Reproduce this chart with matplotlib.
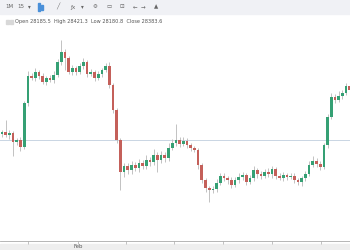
import matplotlib
matplotlib.use("Agg")
import matplotlib.pyplot as plt
from matplotlib.patches import Rectangle

# ---- data ------------------------------------------------------------------
closes = [28140, 28125, 28135, 28090, 28100, 28065, 28285, 28420, 28410, 28440,
          28420, 28390, 28410, 28400, 28425, 28490, 28540, 28510, 28440, 28460,
          28440, 28470, 28490, 28430, 28440, 28410, 28430, 28450, 28470, 28375,
          28250, 28100, 27940, 27970, 27950, 27975, 27960, 27985, 27970, 28000,
          27990, 28025, 28000, 28025, 28010, 28060, 28085, 28100, 28080, 28095,
          28075, 28060, 28050, 27975, 27900, 27860, 27850, 27855, 27885, 27920,
          27910, 27900, 27875, 27900, 27915, 27925, 27890, 27910, 27950, 27930,
          27920, 27940, 27930, 27955, 27920, 27910, 27925, 27915, 27920, 27900,
          27890, 27910, 27930, 27975, 27995, 27980, 27965, 28075, 28215, 28315,
          28300, 28320, 28335, 28370, 28350]
first_open = 28130
wick_up = [10, 60, 15, 10, 10, 15, 10, 25, 15, 20,
           10, 15, 10, 15, 20, 15, 60, 15, 10, 15,
           10, 15, 20, 10, 15, 10, 15, 10, 15, 20,
           10, 10, 10, 15, 15, 20, 15, 20, 15, 25,
           15, 30, 15, 20, 15, 25, 20, 80, 15, 20,
           15, 10, 10, 10, 10, 10, 10, 15, 20, 15,
           15, 10, 15, 15, 20, 15, 10, 15, 20, 10,
           15, 15, 20, 15, 10, 15, 15, 10, 15, 15,
           10, 10, 15, 20, 25, 15, 15, 10, 15, 20,
           15, 25, 15, 15, 20]
wick_dn = [15, 10, 20, 70, 15, 20, 10, 15, 10, 15,
           15, 10, 15, 10, 15, 10, 15, 60, 10, 15,
           15, 10, 15, 15, 10, 15, 10, 15, 10, 15,
           15, 15, 90, 25, 20, 20, 15, 20, 15, 15,
           20, 15, 60, 15, 20, 15, 10, 15, 15, 10,
           15, 15, 10, 20, 15, 20, 60, 15, 15, 10,
           15, 20, 15, 10, 15, 15, 15, 10, 15, 20,
           15, 10, 15, 20, 15, 10, 15, 15, 10, 15,
           15, 20, 15, 10, 10, 15, 15, 10, 15, 10,
           15, 10, 15, 10, 15]
ref_price = 28100
tick_pos = [7, 20.5, 33.5, 46.5, 59.7, 73, 86.2]
tick_labels = ["", "Feb", "", "", "", "", ""]
ohlc_text = "Open 28185.5  High 28421.3  Low 28180.8  Close 28383.6"

GREEN, RED, WICK = "#35a074", "#c4605a", "#b8b8b8"

opens = [first_open] + closes[:-1]
x = list(range(len(closes)))
lows = [min(o, c) - d for o, c, d in zip(opens, closes, wick_dn)]
highs = [max(o, c) + u for o, c, u in zip(opens, closes, wick_up)]
cols = [GREEN if c >= o else RED for o, c in zip(opens, closes)]

fig = plt.figure(figsize=(3.5, 2.5), dpi=100)
fig.patch.set_facecolor("white")

# toolbar band + scrollbar band
fig.patches.append(Rectangle((0, 1 - 14/250), 1, 14/250, transform=fig.transFigure,
                             color="#f0f1f5", zorder=-1))
fig.patches.append(Rectangle((0, 0), 1, 6/250, transform=fig.transFigure,
                             color="#eeeeee", zorder=-1))
tools = [(5, "1M"), (17, "15"), (28, "▾"), (56, "╱"), (70, "ƒx"), (81, "▾"),
         (93, "⚙"), (106, "▭"), (120, "⊡"), (133, "←"), (141, "→"), (154, "▲")]
for px, t in tools:
    fig.text(px/350, 1 - 7/250, t, fontsize=4, color="#666666", ha="left", va="center")
# blue candle icon
fig.patches.append(Rectangle((38/350, 1 - 11/250), 2/350, 8/250, transform=fig.transFigure,
                             color="#4a90d9"))
fig.patches.append(Rectangle((41/350, 1 - 10/250), 2/350, 5/250, transform=fig.transFigure,
                             color="#4a90d9"))

# ohlc legend
fig.patches.append(Rectangle((6/350, 1 - 24/250), 3/350, 4/250, transform=fig.transFigure,
                             color="#d8d8d8"))
fig.patches.append(Rectangle((10/350, 1 - 24/250), 3/350, 4/250, transform=fig.transFigure,
                             color="#d8d8d8"))
fig.text(15/350, 1 - 22/250, ohlc_text, fontsize=3.6, color="#555555", va="center")

ax = fig.add_axes([0, 9/250, 1, 211/250])
ax.set_zorder(1)
ax.vlines(x, lows, highs, color=WICK, lw=0.6, zorder=1)
ax.bar(x, [abs(c - o) or 2 for o, c in zip(opens, closes)],
       bottom=[min(o, c) for o, c in zip(opens, closes)], width=0.72, color=cols, zorder=2)
ax.axhline(ref_price, color="#c9d5e3", lw=0.7, zorder=0)

ax.set_xlim(-0.54, 94.05)
ax.set_ylim(27595, 28650)
for s in ["top", "left", "right"]:
    ax.spines[s].set_visible(False)
ax.spines["bottom"].set_color("#aaaaaa")
ax.spines["bottom"].set_linewidth(0.6)
ax.set_yticks([])
ax.set_xticks(tick_pos)
ax.set_xticklabels(tick_labels, fontsize=3.8, color="#555555")
ax.tick_params(axis="x", length=2, width=0.5, color="#aaaaaa", pad=0.3)

fig.savefig("out.png", dpi=100)
